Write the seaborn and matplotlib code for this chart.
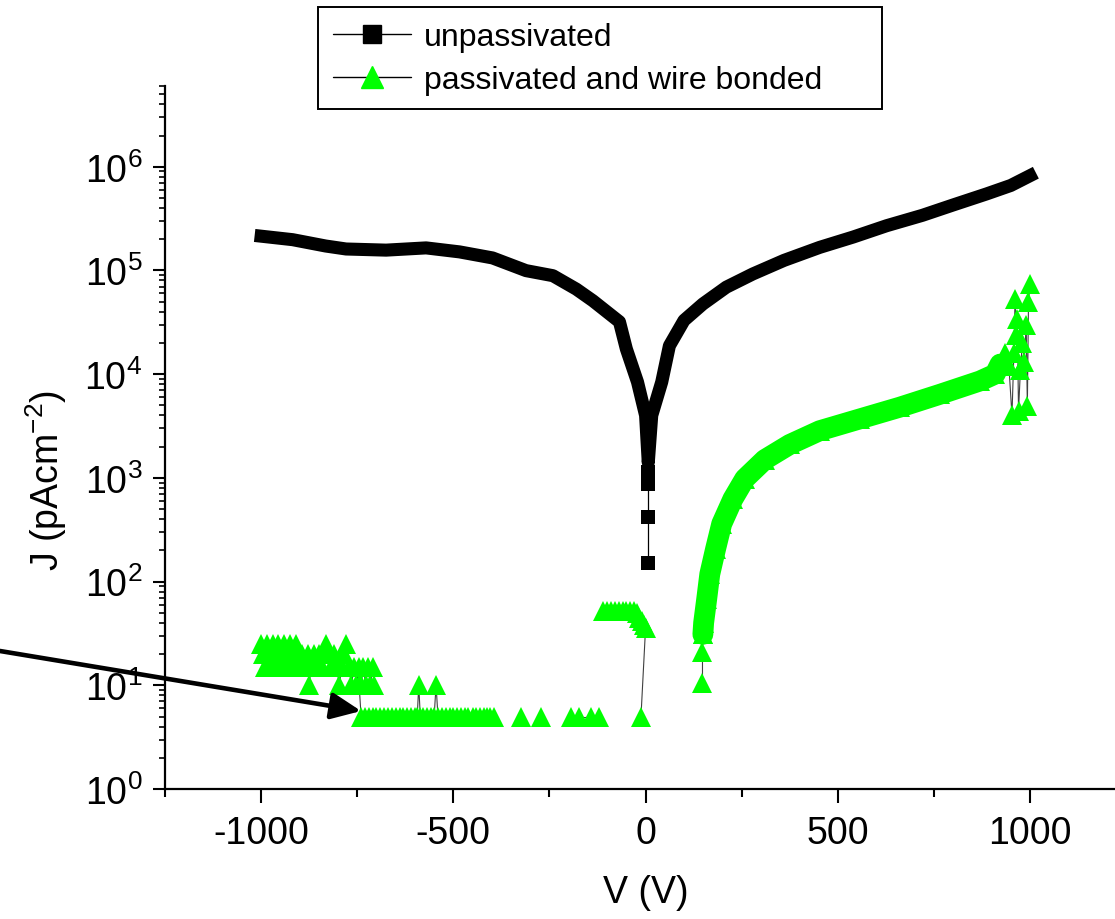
import numpy as np
import pandas as pd
import matplotlib
matplotlib.use("Agg")
import matplotlib.pyplot as plt
import matplotlib.ticker as mticker
from matplotlib.lines import Line2D
import seaborn as sns

# --- unpassivated diode (V in volts, J in pA cm^-2) ---
unp_v = [-1000, -918, -832, -779, -675, -571, -484, -398, -311, -241, -180, -137,
         -68, -50, -21, 0, 7, 16, 42, 62, 100, 149, 210, 279, 360, 453, 540,
         627, 720, 800, 887, 950, 1000]
unp_j = [2.14e5, 1.98e5, 1.72e5, 1.61e5, 1.57e5, 1.65e5, 1.51e5, 1.32e5, 9.96e4,
         8.9e4, 6.6e4, 5.1e4, 3.2e4, 1.75e4, 8.4e3, 4.0e3, 1.4e3, 4.0e3, 8.4e3,
         1.88e4, 3.3e4, 4.75e4, 6.9e4, 9.25e4, 1.25e5, 1.67e5, 2.1e5, 2.7e5,
         3.4e5, 4.28e5, 5.47e5, 6.6e5, 8.2e5]
# isolated readings at the bottom of the dip
unp_tail_v = [7, 7, 7, 7]
unp_tail_j = [1150, 870, 420, 150]

# --- passivated and wire bonded ---
# noisy low-current cluster, reverse bias
clu_v = [-1000, -995, -990, -985, -980, -975, -970, -965, -960, -955, -950, -945,
         -940, -935, -930, -925, -920, -915, -910, -905,
         -900, -893, -886, -879, -875, -870, -863, -856, -849, -842, -836, -830,
         -824, -817, -810, -803, -797, -790, -784, -778, -772, -765, -758, -752,
         -746, -740, -734, -728, -722, -716, -710, -706]
clu_j = [25, 20, 15, 25, 20, 15, 25, 20, 15, 25, 20, 15,
         25, 20, 15, 25, 20, 15, 25, 20,
         15, 20, 15, 20, 10, 15, 20, 15, 20, 15, 20, 25,
         20, 15, 20, 15, 10, 15, 20, 25, 15, 10, 15, 10,
         15, 10, 15, 10, 15, 10, 15, 10]
# resolution floor
flo_v = [-745, -740, -730, -720, -710, -700, -690, -680, -670, -660, -650, -640,
         -630, -620, -610, -600, -594, -590, -586, -578, -568, -558, -550, -545,
         -540, -530, -520, -510, -500, -490, -480, -470, -461, -450, -440, -432,
         -420, -412, -404, -393]
flo_j = [10, 5, 5, 5, 5, 5, 5, 5, 5, 5, 5, 5,
         5, 5, 5, 5, 5, 10, 5, 5, 5, 5, 5, 10,
         5, 5, 5, 5, 5, 5, 5, 5, 5, 5, 5, 5,
         5, 5, 5, 5]
# lone readings on the floor
lone_v = [-323, -271, -193, -172, -141, -120]
lone_j = [5, 5, 5, 5, 5, 5]
lone_seg = [0, 1, 2, 2, 2, 2]
# plateau just below 0 V
top_v = [-110, -100, -90, -80, -70, -60, -50, -40, -30, -22, -16, -10, -4, 0, -12]
top_j = [52, 52, 52, 52, 52, 52, 52, 52, 52, 50, 45, 42, 38, 36, 5]
# onset of forward branch
foot_v = [148, 148, 149]
foot_j = [10.5, 21, 31]
# rising branch
rise_v = [149, 151, 159, 167, 182, 198, 227, 258, 310, 375, 453, 557, 661, 766,
          870, 909, 922]
rise_j = [31, 40, 68, 118, 206, 360, 625, 980, 1.5e3, 2.1e3, 2.85e3, 3.7e3,
          4.8e3, 6.4e3, 8.6e3, 1.0e4, 1.25e4]
# scatter near 1000 V
end_v = [925, 935, 945, 953, 958, 961, 964, 967, 970, 975, 980, 985, 990, 993,
         996, 1000]
end_j = [1.3e4, 1.6e4, 1.2e4, 4.0e3, 1.6e4, 5.3e4, 2.4e4, 3.4e4, 4.4e3, 1.1e4,
         2.0e4, 1.3e4, 3.0e4, 4.9e3, 5.0e4, 7.4e4]

legend_labels = ["unpassivated", "passivated and wire bonded"]

GREEN = "#00ff00"
LINE_GREY = "#404040"

sns.set_style("ticks")
plt.rcParams["font.family"] = ["Liberation Sans", "DejaVu Sans"]
plt.rcParams["mathtext.fontset"] = "custom"
plt.rcParams["mathtext.rm"] = "Liberation Sans"
plt.rcParams["mathtext.it"] = "Liberation Sans:italic"
plt.rcParams["axes.unicode_minus"] = False
for key in ("text.color", "axes.labelcolor", "xtick.color", "ytick.color"):
    plt.rcParams[key] = "black"

fig = plt.figure(figsize=(11.15, 9.2), dpi=100)
ax = fig.add_axes([0.148, 0.1413, 0.862, 0.7641])

# unpassivated: dense data -> thick black band
sns.lineplot(x=unp_v, y=unp_j, sort=False, estimator=None, color="black",
             linewidth=9.4, solid_joinstyle="round", solid_capstyle="projecting", ax=ax)
sns.lineplot(x=unp_tail_v, y=unp_tail_j, sort=False, estimator=None, color="black",
             linewidth=0.9, marker="s", markersize=9.5, markerfacecolor="black",
             markeredgecolor="black", markeredgewidth=0, ax=ax)

# passivated: thin connecting lines with green triangles
pieces = [(clu_v, clu_j, [0] * len(clu_v)),
          (flo_v, flo_j, [1] * len(flo_v)),
          (lone_v, lone_j, [2 + s for s in lone_seg]),
          (top_v, top_j, [10] * len(top_v)),
          (foot_v, foot_j, [11] * len(foot_v)),
          (end_v, end_j, [12] * len(end_v))]
pas = pd.concat([pd.DataFrame({"V": v, "J": j, "seg": s}) for v, j, s in pieces],
                ignore_index=True)

tri = dict(marker="^", markersize=14.5, markerfacecolor=GREEN,
           markeredgecolor=GREEN, markeredgewidth=0)
sns.lineplot(x=rise_v, y=rise_j, sort=False, estimator=None, color=GREEN,
             linewidth=15, solid_joinstyle="round", ax=ax, **tri)
sns.lineplot(data=pas, x="V", y="J", units="seg", estimator=None, sort=False,
             color=LINE_GREY, linewidth=0.8, ax=ax, **tri)

ax.set_yscale("log")
ax.set_xlim(-1250, 1250)
ax.set_ylim(1, 6e6)

ax.xaxis.set_major_locator(mticker.MultipleLocator(500))
ax.xaxis.set_minor_locator(mticker.MultipleLocator(250))
ax.yaxis.set_major_locator(mticker.LogLocator(base=10, numticks=20))
ax.yaxis.set_minor_locator(mticker.LogLocator(base=10, subs=np.arange(2, 10), numticks=100))
ax.yaxis.set_minor_formatter(mticker.NullFormatter())

sns.despine(ax=ax)
for side in ("left", "bottom"):
    ax.spines[side].set_linewidth(1.6)
    ax.spines[side].set_color("black")

ax.tick_params(axis="x", which="major", direction="out", length=10, width=1.5,
               labelsize=27, pad=9, colors="black")
ax.tick_params(axis="x", which="minor", direction="out", length=5.5, width=1.5,
               colors="black")
ax.tick_params(axis="y", which="major", direction="out", length=8.5, width=1.5,
               labelsize=27, pad=8, colors="black")
ax.tick_params(axis="y", which="minor", direction="out", length=4, width=1.2,
               colors="black")

ax.set_xlabel("V (V)", fontsize=27, labelpad=16)
ax.set_ylabel("J (pAcm$^{-2}$)", fontsize=27)
ax.yaxis.set_label_coords(-0.1, 0.44)

handles = [
    Line2D([], [], color="black", lw=1, marker="s", markersize=13,
           markerfacecolor="black", markeredgecolor="black"),
    Line2D([], [], color="black", lw=1, marker="^", markersize=16,
           markerfacecolor=GREEN, markeredgecolor=GREEN),
]
leg = ax.legend(handles, legend_labels, loc="upper left",
                bbox_to_anchor=(318 / 1115, 1 - 105 / 920, (882 - 318) / 1115, 97 / 920),
                bbox_transform=fig.transFigure, mode="expand", borderaxespad=0,
                fontsize=23, handlelength=2.45, handletextpad=0.4, labelspacing=0.41,
                borderpad=0.46, fancybox=False, framealpha=1, edgecolor="black")
leg.get_frame().set_linewidth(1.4)

# arrow pointing at the measurement floor
ax.annotate("", xy=(-740, 5.65), xycoords="data",
            xytext=(0.0, 1 - 652 / 920), textcoords="figure fraction",
            arrowprops=dict(arrowstyle="-|>,head_length=0.9,head_width=0.4",
                            lw=3.3, color="black", shrinkA=0, shrinkB=0,
                            mutation_scale=20),
            annotation_clip=False)

fig.savefig("out.png", dpi=100)
